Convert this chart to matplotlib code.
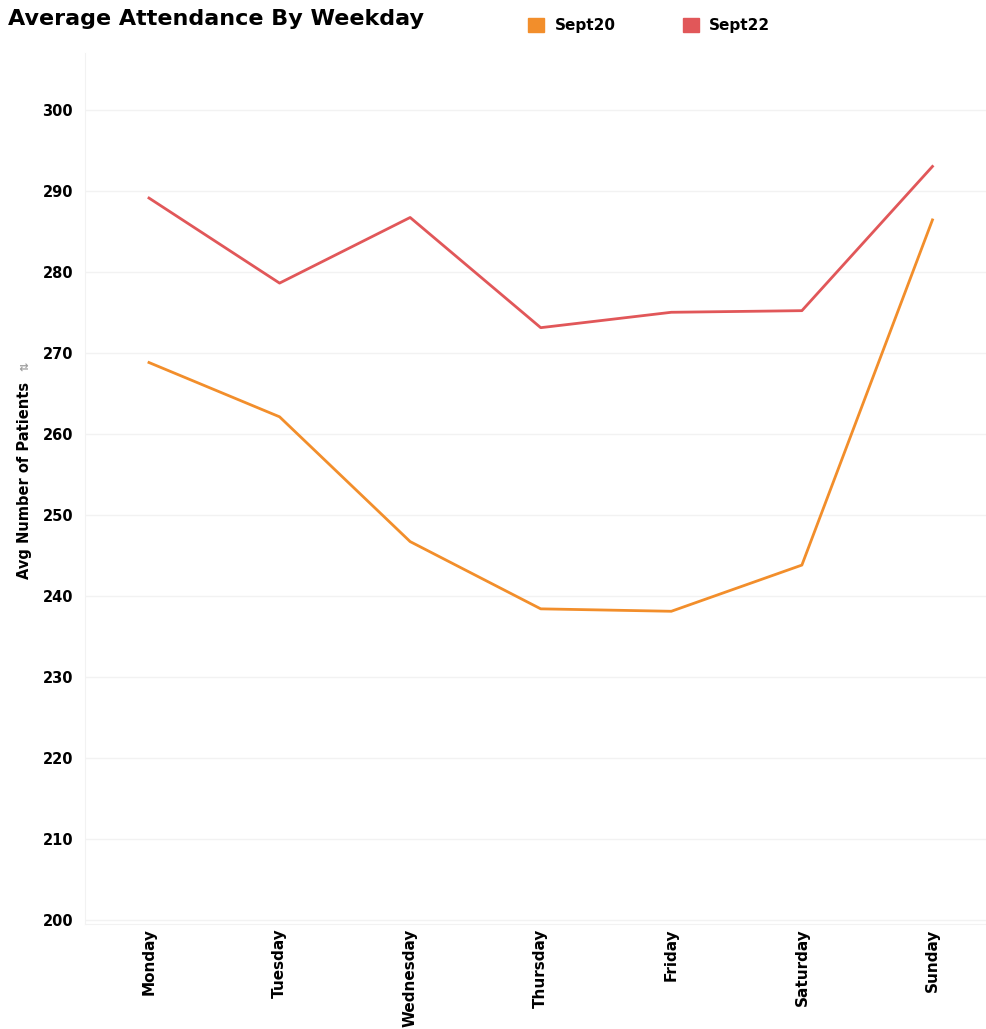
import matplotlib.pyplot as plt
from matplotlib.patches import Patch

days = ["Monday", "Tuesday", "Wednesday", "Thursday", "Friday", "Saturday", "Sunday"]
sept20 = [268.8, 262.1, 246.7, 238.4, 238.1, 243.8, 286.4]
sept22 = [289.1, 278.6, 286.7, 273.1, 275.0, 275.2, 293.0]
series_names = ["Sept20", "Sept22"]
colors = ["#F28E2B", "#E15759"]

plt.rcParams["font.family"] = ["DejaVu Sans"]
plt.rcParams["font.weight"] = "bold"

fig = plt.figure(figsize=(9.86, 10.29), dpi=100)
ax = fig.add_axes([0.0862, 0.102, 0.9138, 0.8465])

x = list(range(len(days)))
for vals, c in zip([sept20, sept22], colors):
    ax.plot(x, vals, color=c, linewidth=2)

ax.set_xlim(-0.49, 6.41)
ax.set_ylim(199.5, 307)
ax.set_yticks(range(200, 301, 10))
ax.set_xticks(x)
ax.set_xticklabels(days, rotation=90, fontsize=11, fontweight="bold")
ax.tick_params(axis="y", labelsize=10.5, length=0, pad=8.6)
ax.tick_params(axis="x", length=0, pad=3)
for lbl in ax.get_yticklabels():
    lbl.set_fontweight("bold")

# faint horizontal gridlines, faint left and bottom edges
ax.grid(axis="y", color="#f2f2f2", linewidth=1)
ax.set_axisbelow(True)
for side in ["top", "right"]:
    ax.spines[side].set_visible(False)
ax.spines["left"].set_color("#f2f2f2")
ax.spines["bottom"].set_color("#f2f2f2")

ax.set_ylabel("Avg Number of Patients", fontsize=10.5, fontweight="bold")
ax.yaxis.set_label_coords(-0.0588, 0.509)
# small sort icon next to the axis title
fig.text(0.0255, 1 - 366 / 1029, "\u21c5", fontsize=8, color="#a0a0a0",
         ha="center", va="center", rotation=90)

fig.text(0.008, 1 - 25 / 1029, "Average Attendance By Weekday", fontsize=16,
         fontweight="bold", va="baseline", ha="left")

handles = [Patch(color=c, label=n) for n, c in zip(series_names, colors)]
fig.legend(handles=handles, loc="center left", bbox_to_anchor=(0.522, 0.975),
           ncol=2, frameon=False, fontsize=11, handlelength=1.05,
           handleheight=1.0, columnspacing=4.4, handletextpad=0.65)

fig.savefig("out.png", dpi=100)
